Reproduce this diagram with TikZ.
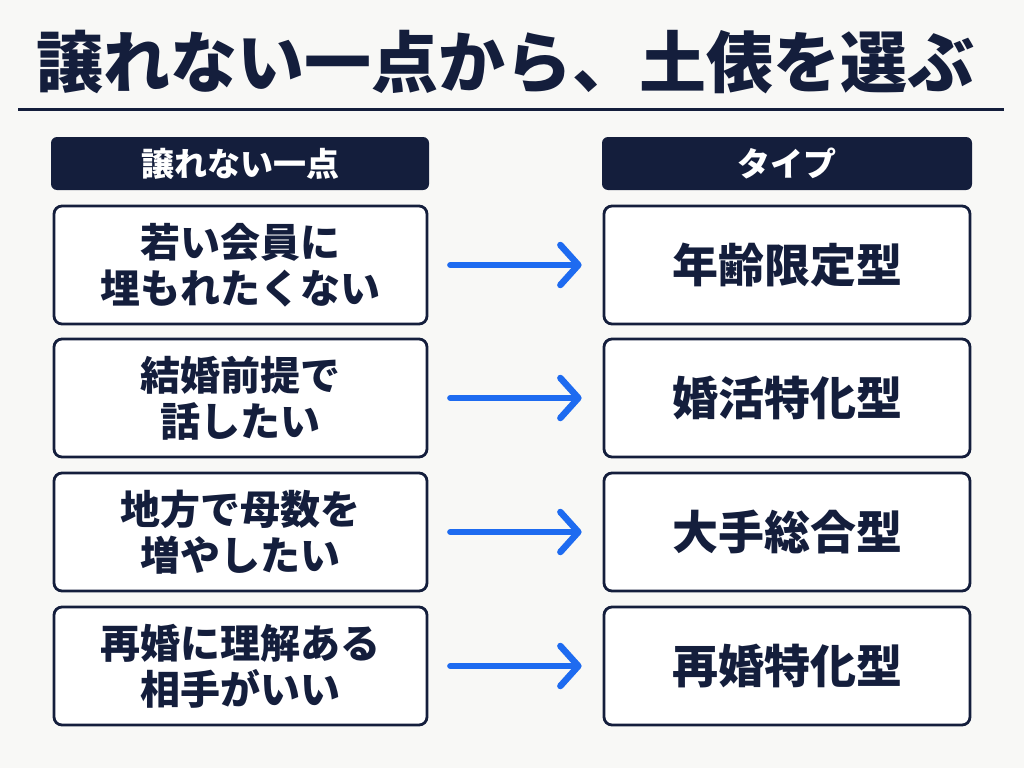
\documentclass[tikz,border=0pt]{standalone}
\usepackage{fontspec}
\setmainfont{Noto Sans CJK JP}[BoldFont={* Black}]
\usetikzlibrary{arrows.meta}
\definecolor{navy}{HTML}{141E3C}
\definecolor{arrowblue}{HTML}{1E6BF0}
\definecolor{bg}{HTML}{F8F8F6}
\tikzset{
  hdr/.style={fill=navy, rounded corners=6pt, minimum width=#1, minimum height=53pt, inner sep=0pt, text=white, font=\fontsize{33}{36}\selectfont\bfseries},
  leftbox/.style={draw=navy, line width=2.8pt, fill=white, rounded corners=8pt, minimum width=373pt, minimum height=118pt, inner sep=0pt, text=navy, align=center, font=\fontsize{40}{46}\selectfont\bfseries},
  rightbox/.style={draw=navy, line width=2.8pt, fill=white, rounded corners=8pt, minimum width=366pt, minimum height=118pt, inner sep=0pt, text=navy, font=\fontsize{46}{50}\selectfont\bfseries},
  conn/.style={draw=arrowblue, line width=6.5pt, line cap=round, shorten <=22pt, shorten >=21pt, -{Straight Barb[round, length=18pt, width=40pt]}},
}
\begin{document}
\begin{tikzpicture}[x=1pt, y=-1pt]
\fill[bg] (0,0) rectangle (1024,768);
\useasboundingbox (0,0) rectangle (1024,768);
\node[text=navy, font=\fontsize{67}{70}\selectfont\bfseries] (title) at (505,62) {譲れない一点から、土俵を選ぶ};
\draw[navy, line width=3pt] (18,109) coordinate (r0) -- (1004,109) coordinate (r1);
\node[hdr=378pt] (h1) at (240,163.5) {譲れない一点};
\node[hdr=370pt] (h2) at (787,163.5) {タイプ};
\node[leftbox] (l1) at (240.5,265) {若い会員に\\埋もれたくない};
\node[leftbox] (l2) at (240.5,398) {結婚前提で\\話したい};
\node[leftbox] (l3) at (240.5,532) {地方で母数を\\増やしたい};
\node[leftbox] (l4) at (240.5,666) {再婚に理解ある\\相手がいい};
\node[rightbox] (g1) at (787,265) {年齢限定型};
\node[rightbox] (g2) at (787,398) {婚活特化型};
\node[rightbox] (g3) at (787,532) {大手総合型};
\node[rightbox] (g4) at (787,666) {再婚特化型};
\draw[conn] (l1) -- (g1);
\draw[conn] (l2) -- (g2);
\draw[conn] (l3) -- (g3);
\draw[conn] (l4) -- (g4);
\end{tikzpicture}
\end{document}
